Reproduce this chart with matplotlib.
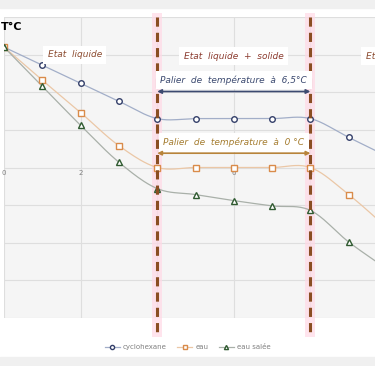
import numpy as np
import matplotlib.pyplot as plt
from matplotlib.patches import Rectangle

# temps (min) et températures relevées (°C)
temps = [0, 1, 2, 3, 4, 5, 6, 7, 8, 9, 10]
cyclohexane = [16, 13.6, 11.2, 8.8, 6.5, 6.5, 6.5, 6.5, 6.5, 4.0, 1.5]
eau = [16, 11.6, 7.3, 2.9, 0, 0, 0, 0, 0, -3.6, -8]
eau_salee = [16, 10.8, 5.6, 0.7, -2.8, -3.6, -4.4, -5.1, -5.7, -9.9, -13.5]

x_ticks = [0, 2, 4, 6, 8]
y_grid = [-20, -15, -10, -5, 0, 5, 10, 15, 20]


def lisse(x, y, n=20):
    # courbe lissée type Catmull-Rom passant par les points
    x = np.asarray(x, float)
    y = np.asarray(y, float)
    px = np.concatenate([[2 * x[0] - x[1]], x, [2 * x[-1] - x[-2]]])
    py = np.concatenate([[2 * y[0] - y[1]], y, [2 * y[-1] - y[-2]]])
    xs, ys = [], []
    for i in range(1, len(px) - 2):
        t = np.linspace(0, 1, n, endpoint=False)
        for p, out in ((px, xs), (py, ys)):
            p0, p1, p2, p3 = p[i - 1], p[i], p[i + 1], p[i + 2]
            out.extend(0.5 * (2 * p1 + (-p0 + p2) * t
                              + (2 * p0 - 5 * p1 + 4 * p2 - p3) * t ** 2
                              + (-p0 + 3 * p1 - 3 * p2 + p3) * t ** 3))
    xs.append(x[-1])
    ys.append(y[-1])
    return xs, ys


fig = plt.figure(figsize=(3.75, 3.66), dpi=100)
fig.patches.append(Rectangle((0, 0.977), 1, 0.023, transform=fig.transFigure,
                             color='#f0f0f0', zorder=-10))
fig.patches.append(Rectangle((0, 0), 1, 0.025, transform=fig.transFigure,
                             color='#f0f0f0', zorder=-10))

ax = fig.add_axes([4 / 375, 48 / 366, 371 / 375, 301 / 366])
ax.set_facecolor('#f5f5f5')
ax.set_xlim(0, 371 / 38.3)
ax.set_ylim(-20, 20)

ax.set_xticks(x_ticks)
ax.set_yticks(y_grid)
ax.set_yticklabels([])
ax.grid(True, color='#dedede', linewidth=0.8)
ax.set_axisbelow(True)
for s in ax.spines.values():
    s.set_visible(False)
ax.spines['bottom'].set_position(('data', 0))
ax.tick_params(axis='both', length=0, labelsize=5, labelcolor='#808080', pad=2)

series = [
    (cyclohexane, 'cyclohexane', '#a2aec8', '#34406a', 'o'),
    (eau, 'eau', '#ebc7a6', '#d98b4a', 's'),
    (eau_salee, 'eau salée', '#a9b0a9', '#2f5a30', '^'),
]
for vals, nom, c_ligne, c_marq, m in series:
    xs, ys = lisse(temps, vals)
    ax.plot(xs, ys, color=c_ligne, lw=0.9, zorder=3)
    ax.plot(temps, vals, ls='none', marker=m, ms=4, mfc='white',
            mec=c_marq, mew=1.0, zorder=4)
    ax.plot([], [], color=c_ligne, lw=0.9, marker=m, ms=3, mfc='white',
            mec=c_marq, label=nom)

# changements d'état
for xv in [4, 8]:
    ax.add_patch(Rectangle((xv - 0.13, -22.5), 0.26, 43, facecolor='#ffd9e6',
                           alpha=0.7, edgecolor='none', clip_on=False, zorder=1))
    ax.plot([xv, xv], [20, -22], color='#8a4e22', lw=2.2, ls=(0, (3, 2)),
            clip_on=False, zorder=5)

boite = dict(boxstyle='square,pad=0.5', fc='white', ec='none')
police = dict(fontsize=6.5, style='italic', family='DejaVu Sans')
ax.text(1.85, 15, 'Etat  liquide', color='#8b4a2e', ha='center', va='center',
        bbox=boite, zorder=6, **police)
ax.text(6, 14.8, 'Etat  liquide  +  solide', color='#8b3a2e', ha='center',
        va='center', bbox=boite, zorder=6, **police)
ax.text(9.45, 14.8, 'Etat  solide', color='#8b4a2e', ha='left', va='center',
        bbox=boite, zorder=6, **police)

ax.text(6, 11.6, 'Palier  de  température  à  6,5°C', color='#3c4a70',
        ha='center', va='center', bbox=boite, zorder=6, **police)
ax.annotate('', xy=(4, 10.1), xytext=(8, 10.1), zorder=6,
            arrowprops=dict(arrowstyle='<|-|>', color='#3c4a70', lw=1.2,
                            mutation_scale=6, shrinkA=0, shrinkB=0))
ax.text(6, 3.3, 'Palier  de  température  à  0 °C', color='#a57d30',
        ha='center', va='center', bbox=boite, zorder=6, **police)
ax.annotate('', xy=(4, 1.9), xytext=(8, 1.9), zorder=6,
            arrowprops=dict(arrowstyle='<|-|>', color='#b8843a', lw=1.2,
                            mutation_scale=6, shrinkA=0, shrinkB=0))

fig.text(0.002, 0.925, 'T°C', fontsize=8, fontweight='bold', color='black',
         ha='left', va='center')

fig.legend(loc='center', bbox_to_anchor=(0.5, 0.052), ncol=3, frameon=False,
           fontsize=5, labelcolor='#808080', handlelength=2.2,
           columnspacing=1.5, handletextpad=0.4)

fig.savefig('out.png', dpi=100)
